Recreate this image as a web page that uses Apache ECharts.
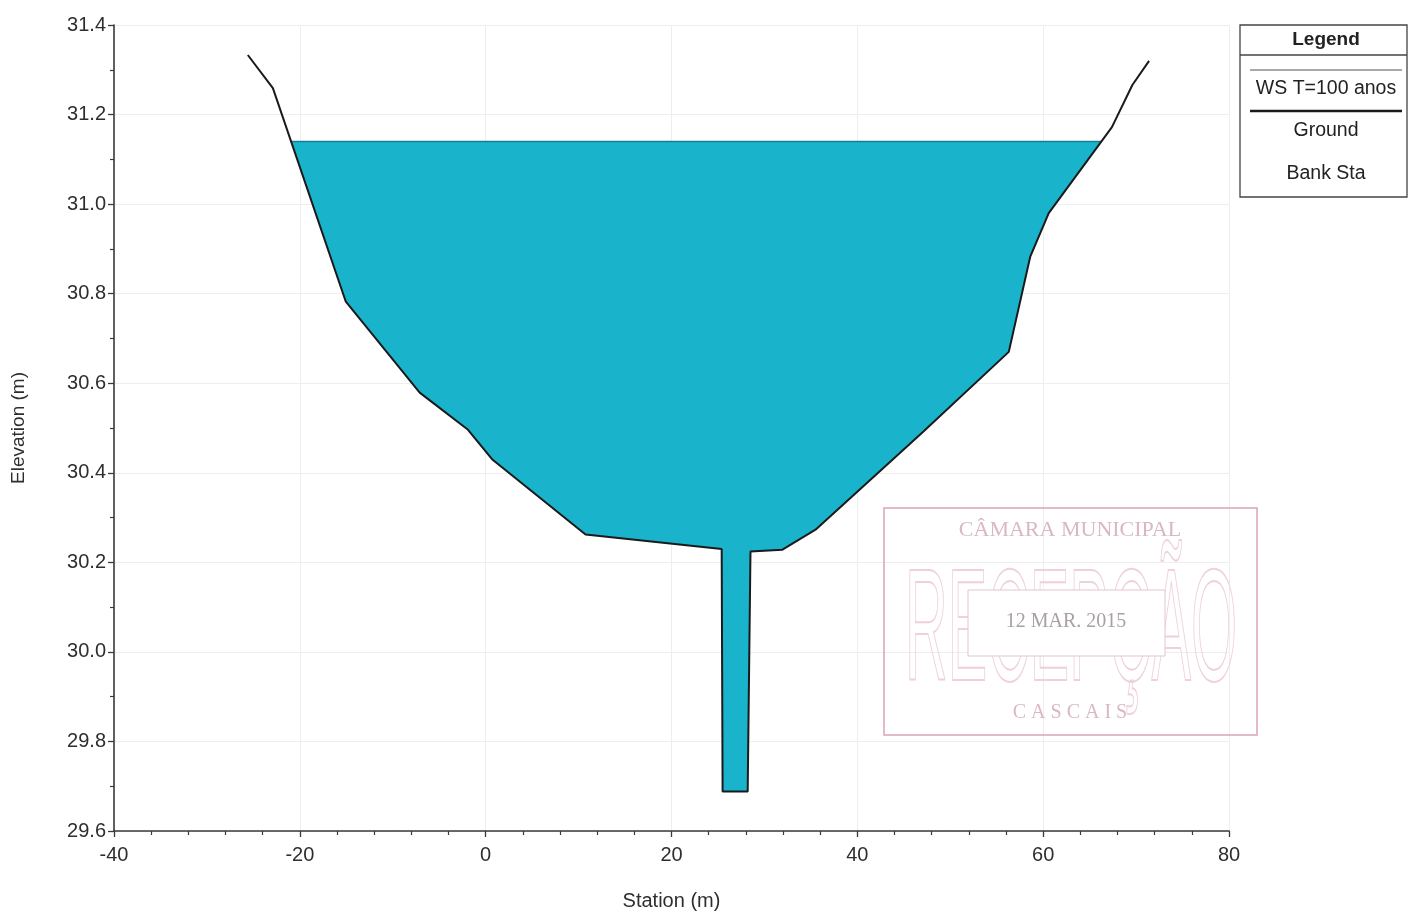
<!DOCTYPE html>
<html>
<head>
<meta charset="utf-8">
<script src="https://cdn.jsdelivr.net/npm/echarts@6/dist/echarts.min.js"></script>
<style>
html,body{margin:0;padding:0;background:#fff;}
#chart{width:1409px;height:911px;}
</style>
</head>
<body>
<div id="chart"></div>
<script>
// Ground profile (station m, elevation m)
const groundStations = [-25.6, -22.9, -15.05, -7.1, -1.9, 0.75, 10.75, 25.4, 25.5, 28.2, 28.5, 31.9, 35.5, 47.0, 56.3, 58.6, 60.6, 67.4, 69.6, 71.4];
const groundElevations = [31.333, 31.259, 30.782, 30.579, 30.496, 30.429, 30.262, 30.230, 29.688, 29.688, 30.224, 30.228, 30.273, 30.49, 30.67, 30.882, 30.98, 31.172, 31.266, 31.32];
// Water surface
const wsName = 'WS T=100 anos';
const wsElevation = 31.14;
// Axis ticks
const xTicks = [-40, -20, 0, 20, 40, 60, 80];
const yTicks = [29.6, 29.8, 30.0, 30.2, 30.4, 30.6, 30.8, 31.0, 31.2, 31.4];
const legendItems = ['WS T=100 anos', 'Ground', 'Bank Sta'];
const stampTexts = ['CÂMARA MUNICIPAL', 'RECEPÇÃO', '12 MAR. 2015', 'C A S C A I S'];

const ground = groundStations.map((s, i) => [s, groundElevations[i]]);

// Clip the ground profile at the water surface to get the wetted polygon
const waterPoly = [];
for (let i = 0; i < ground.length - 1; i++) {
  const [x1, y1] = ground[i], [x2, y2] = ground[i + 1];
  if (i === 0 && y1 <= wsElevation) waterPoly.push([x1, y1]);
  const a = y1 - wsElevation, b = y2 - wsElevation;
  if ((a > 0 && b <= 0) || (a <= 0 && b > 0)) {
    const t = a / (a - b);
    waterPoly.push([x1 + t * (x2 - x1), wsElevation]);
  }
  if (y2 <= wsElevation) waterPoly.push([x2, y2]);
}
const wsLine = [[waterPoly[0][0], wsElevation], [waterPoly[waterPoly.length - 1][0], wsElevation]];

const FONT = '"Liberation Sans", Arial, sans-serif';
const TXT = '#2e2e2e';
const chart = echarts.init(document.getElementById('chart'));
chart.setOption({
  animation: false,
  backgroundColor: '#ffffff',
  grid: { left: 114, right: 180, top: 25, bottom: 80, outerBoundsMode: 'none', containLabel: false },
  xAxis: {
    type: 'value', min: xTicks[0], max: xTicks[xTicks.length - 1], interval: 20,
    name: 'Station (m)', nameLocation: 'middle', nameGap: 60,
    nameTextStyle: { fontFamily: FONT, fontSize: 20, color: TXT },
    axisLine: { onZero: false, lineStyle: { color: '#3a3a3a', width: 1.6 } },
    axisTick: { length: 6, lineStyle: { color: '#3a3a3a', width: 1.3 } },
    minorTick: { show: true, splitNumber: 5, length: 4, lineStyle: { color: '#3a3a3a', width: 1.2 } },
    axisLabel: { fontFamily: FONT, fontSize: 20, color: TXT, margin: 14 },
    splitLine: { show: true, lineStyle: { color: '#eeeeee', width: 1 } }
  },
  yAxis: {
    type: 'value', min: yTicks[0], max: yTicks[yTicks.length - 1], interval: 0.2,
    name: 'Elevation (m)', nameLocation: 'middle', nameGap: 86, nameRotate: 90,
    nameTextStyle: { fontFamily: FONT, fontSize: 19, color: TXT },
    axisLine: { onZero: false, lineStyle: { color: '#3a3a3a', width: 1.6 } },
    axisTick: { length: 6, lineStyle: { color: '#3a3a3a', width: 1.3 } },
    minorTick: { show: true, splitNumber: 2, length: 4, lineStyle: { color: '#3a3a3a', width: 1.2 } },
    axisLabel: { fontFamily: FONT, fontSize: 20, color: TXT, margin: 8, formatter: v => v.toFixed(1) },
    splitLine: { show: true, lineStyle: { color: '#eeeeee', width: 1 } }
  },
  series: [
    {
      name: wsName, type: 'custom', data: waterPoly, encode: { x: 0, y: 1 }, z: 2,
      renderItem: (params, api) => {
        if (params.dataIndex !== 0) return null;
        const pts = waterPoly.map(p => api.coord(p));
        return { type: 'polygon', shape: { points: pts }, style: { fill: '#19b3cc', stroke: null } };
      }
    },
    {
      name: 'WS line', type: 'line', data: wsLine, symbol: 'none', z: 3,
      lineStyle: { color: '#157f95', width: 1.5 }
    },
    {
      name: 'Ground', type: 'line', data: ground, symbol: 'none', z: 4,
      lineStyle: { color: '#1a1a1a', width: 2 }
    }
  ],
  graphic: [
    // Legend box
    { type: 'rect', shape: { x: 1240, y: 25, width: 167, height: 172 }, style: { fill: '#fff', stroke: '#444', lineWidth: 1.3 }, z: 10 },
    { type: 'line', shape: { x1: 1240, y1: 55, x2: 1407, y2: 55 }, style: { stroke: '#444', lineWidth: 1.3 }, z: 11 },
    { type: 'text', x: 1326, y: 40, style: { text: 'Legend', font: 'bold 19px ' + FONT, fill: '#222', align: 'center', verticalAlign: 'middle' }, z: 11 },
    { type: 'line', shape: { x1: 1250, y1: 70, x2: 1402, y2: 70 }, style: { stroke: '#555', lineWidth: 1.2 }, z: 11 },
    { type: 'text', x: 1326, y: 89, style: { text: legendItems[0], font: '19.5px ' + FONT, fill: '#222', align: 'center', verticalAlign: 'middle' }, z: 11 },
    { type: 'line', shape: { x1: 1250, y1: 111, x2: 1402, y2: 111 }, style: { stroke: '#1a1a1a', lineWidth: 2.4 }, z: 11 },
    { type: 'text', x: 1326, y: 131, style: { text: legendItems[1], font: '19.5px ' + FONT, fill: '#222', align: 'center', verticalAlign: 'middle' }, z: 11 },
    { type: 'text', x: 1326, y: 174, style: { text: legendItems[2], font: '19.5px ' + FONT, fill: '#222', align: 'center', verticalAlign: 'middle' }, z: 11 },
    // Faint stamp
    { type: 'rect', shape: { x: 884, y: 508, width: 373, height: 227 }, style: { fill: 'rgba(0,0,0,0)', stroke: '#dca3b6', lineWidth: 1.5 }, z: 12 },
    { type: 'text', x: 1070, y: 530, style: { text: stampTexts[0], font: '22px "Liberation Serif", serif', fill: '#d9b8c2', align: 'center', verticalAlign: 'middle' }, z: 12 },
    { type: 'text', x: 1071, y: 636, scaleX: 0.37, style: { text: stampTexts[1], font: '160px "Liberation Sans", sans-serif', fill: 'rgba(0,0,0,0)', stroke: '#f0d0db', lineWidth: 2, align: 'center', verticalAlign: 'middle' }, z: 12 },
    { type: 'rect', shape: { x: 968, y: 590, width: 197, height: 66 }, style: { fill: '#fff', stroke: '#e2c5ce', lineWidth: 1 }, z: 13 },
    { type: 'text', x: 1066, y: 622, style: { text: stampTexts[2], font: '20px "Liberation Serif", serif', fill: '#a9a0a3', align: 'center', verticalAlign: 'middle' }, z: 14 },
    { type: 'text', x: 1070, y: 713, style: { text: stampTexts[3], font: '20px "Liberation Serif", serif', fill: '#d9b8c2', align: 'center', verticalAlign: 'middle' }, z: 12 }
  ]
});
</script>
</body>
</html>
